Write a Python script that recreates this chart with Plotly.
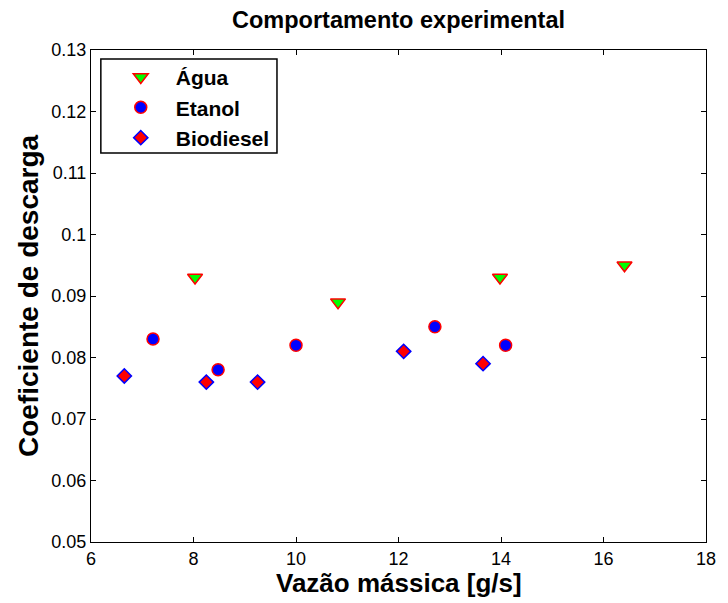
import plotly.graph_objects as go

# Data
agua_x = [8.03, 10.82, 13.98, 16.41]
agua_y = [0.093, 0.089, 0.093, 0.095]
etanol_x = [7.21, 8.48, 10.0, 12.71, 14.09]
etanol_y = [0.083, 0.078, 0.082, 0.085, 0.082]
biodiesel_x = [6.65, 8.25, 9.25, 12.10, 13.65]
biodiesel_y = [0.077, 0.076, 0.076, 0.081, 0.079]

x_ticks = [6, 8, 10, 12, 14, 16, 18]
y_ticks = [0.05, 0.06, 0.07, 0.08, 0.09, 0.1, 0.11, 0.12, 0.13]
y_tick_text = ["0.05", "0.06", "0.07", "0.08", "0.09", "0.1", "0.11", "0.12", "0.13"]

FONT = "Liberation Sans, Arial, sans-serif"

fig = go.Figure()
fig.add_trace(go.Scatter(
    x=agua_x, y=agua_y, mode="markers", name="<b>Água</b>",
    marker=dict(symbol="triangle-down", size=13, color="#00FF00",
                line=dict(color="#FF0000", width=1.5))))
fig.add_trace(go.Scatter(
    x=etanol_x, y=etanol_y, mode="markers", name="<b>Etanol</b>",
    marker=dict(symbol="circle", size=12, color="#0000FF",
                line=dict(color="#FF0000", width=1.5))))
fig.add_trace(go.Scatter(
    x=biodiesel_x, y=biodiesel_y, mode="markers", name="<b>Biodiesel</b>",
    marker=dict(symbol="diamond", size=11, color="#FF0000",
                line=dict(color="#0000FF", width=1.5))))

axis_common = dict(showgrid=False, zeroline=False, showline=True, linecolor="black",
                   linewidth=1, mirror="ticks", ticks="inside", ticklen=5,
                   tickcolor="black", tickfont=dict(family=FONT, size=18, color="black"))

# The page body adds an 8px margin, so the figure is 8px smaller on each axis
fig.update_layout(
    width=720, height=595,
    margin=dict(l=83, r=12, t=42, b=61),
    paper_bgcolor="white", plot_bgcolor="white",
    xaxis=dict(range=[6, 18], tickvals=x_ticks, **axis_common),
    yaxis=dict(range=[0.05, 0.13], tickvals=y_ticks, ticktext=y_tick_text, **axis_common),
    showlegend=True,
    legend=dict(x=0.024, y=0.986, xanchor="left", yanchor="top",
                bgcolor="rgba(0,0,0,0)", borderwidth=0,
                font=dict(family=FONT, size=21, color="black"),
                itemwidth=60, tracegroupgap=0),
    shapes=[dict(type="rect", xref="paper", yref="paper",
                 x0=0.016, x1=0.3024, y0=0.7907, y1=0.9817,
                 line=dict(color="black", width=1.5), fillcolor="white", layer="below")],
    annotations=[
        dict(text="<b>Comportamento experimental</b>", xref="paper", yref="paper",
             x=0.5, y=1, yshift=30, xanchor="center", yanchor="middle", showarrow=False,
             font=dict(family=FONT, size=23.5, color="black")),
        dict(text="<b>Vazão mássica [g/s]</b>", xref="paper", yref="paper",
             x=0.5, y=0, yshift=-41, xanchor="center", yanchor="middle", showarrow=False,
             font=dict(family=FONT, size=26, color="black")),
        dict(text="<b>Coeficiente de descarga</b>", xref="paper", yref="paper",
             x=0, xshift=-63, y=0.5, xanchor="center", yanchor="middle", showarrow=False,
             textangle=-90, font=dict(family=FONT, size=28, color="black")),
    ],
)

fig.write_html("out.html")
